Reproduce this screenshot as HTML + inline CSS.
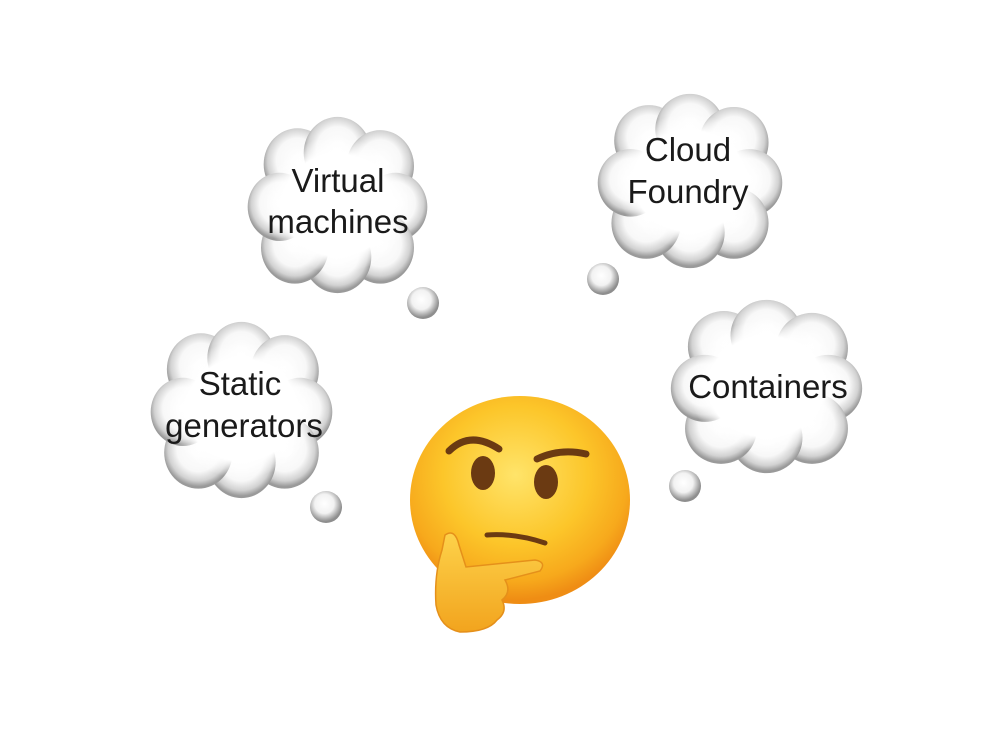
<!DOCTYPE html>
<html><head><meta charset="utf-8"><style>
html,body{margin:0;padding:0;background:#fff}
svg{display:block}
text{font-family:"Liberation Sans",sans-serif;font-size:33px;fill:#1a1a1a;text-anchor:middle}
</style></head><body>
<svg width="993" height="734" viewBox="0 0 993 734" xmlns="http://www.w3.org/2000/svg">
<defs>
<radialGradient id="b" cx="50%" cy="45%" r="52%">
<stop offset="0" stop-color="#fff"/><stop offset="0.6" stop-color="#f8f8f8"/><stop offset="0.85" stop-color="#d2d2d2"/><stop offset="1" stop-color="#9a9a9a"/>
</radialGradient>
<radialGradient id="c" cx="50%" cy="50%" r="50%">
<stop offset="0" stop-color="#fff"/><stop offset="0.75" stop-color="#fff"/><stop offset="1" stop-color="#fff" stop-opacity="0"/>
</radialGradient>
<radialGradient id="sb" cx="45%" cy="40%" r="55%">
<stop offset="0" stop-color="#fff"/><stop offset="0.55" stop-color="#f2f2f2"/><stop offset="1" stop-color="#8e8e8e"/>
</radialGradient>
<radialGradient id="face" cx="48%" cy="38%" r="60%">
<stop offset="0" stop-color="#ffe46a"/><stop offset="0.55" stop-color="#fcc62a"/><stop offset="0.85" stop-color="#f7a91c"/><stop offset="1" stop-color="#ef8d14"/>
</radialGradient>
<linearGradient id="hand" x1="0" y1="0" x2="0" y2="1">
<stop offset="0" stop-color="#fdd24a"/><stop offset="1" stop-color="#f2a41e"/>
</linearGradient>
<symbol id="cloud" viewBox="-4 -2 208 190" preserveAspectRatio="none">
<circle cx="55" cy="50" r="38" fill="url(#b)"/>
<circle cx="100" cy="38" r="38" fill="url(#b)"/>
<circle cx="148" cy="52" r="38" fill="url(#b)"/>
<circle cx="165" cy="95" r="36" fill="url(#b)"/>
<circle cx="148" cy="138" r="38" fill="url(#b)"/>
<circle cx="100" cy="148" r="38" fill="url(#b)"/>
<circle cx="52" cy="138" r="38" fill="url(#b)"/>
<circle cx="35" cy="95" r="36" fill="url(#b)"/>
<ellipse cx="100" cy="93" rx="82" ry="72" fill="url(#c)"/>
</symbol>
</defs>

<use href="#cloud" x="245" y="115" width="185" height="180"/>
<use href="#cloud" x="595" y="92" width="190" height="178"/>
<use href="#cloud" x="148" y="320" width="187" height="180"/>
<use href="#cloud" x="668" y="298" width="197" height="177"/>

<circle cx="423" cy="303" r="16" fill="url(#sb)"/>
<circle cx="603" cy="279" r="16" fill="url(#sb)"/>
<circle cx="326" cy="507" r="16" fill="url(#sb)"/>
<circle cx="685" cy="486" r="16" fill="url(#sb)"/>

<text x="338" y="192">Virtual</text>
<text x="338" y="233">machines</text>
<text x="688" y="161">Cloud</text>
<text x="688" y="203">Foundry</text>
<text x="240" y="395">Static</text>
<text x="244" y="437">generators</text>
<text x="768" y="398">Containers</text>

<ellipse cx="520" cy="500" rx="110" ry="104" fill="url(#face)"/>
<path d="M449 451 Q470 430 499 449" stroke="#6b3a12" stroke-width="7" fill="none" stroke-linecap="round"/>
<path d="M537 459 Q560 448 586 454" stroke="#6b3a12" stroke-width="7" fill="none" stroke-linecap="round"/>
<ellipse cx="483" cy="473" rx="12" ry="17" fill="#6b3a12"/>
<ellipse cx="546" cy="482" rx="12" ry="17" fill="#6b3a12"/>
<path d="M487 535 Q515 533 545 543" stroke="#6b3a12" stroke-width="5" fill="none" stroke-linecap="round"/>
<path d="M445 535 Q455 528 459 545 L466 567 L535 560 Q547 562 540 571 L505 580 Q512 592 502 600 Q508 612 497 620 Q488 632 460 632 Q440 628 436 605 Q434 575 442 550 Z" fill="url(#hand)" stroke="#e5901a" stroke-width="1.5"/>
</svg>
</body></html>
